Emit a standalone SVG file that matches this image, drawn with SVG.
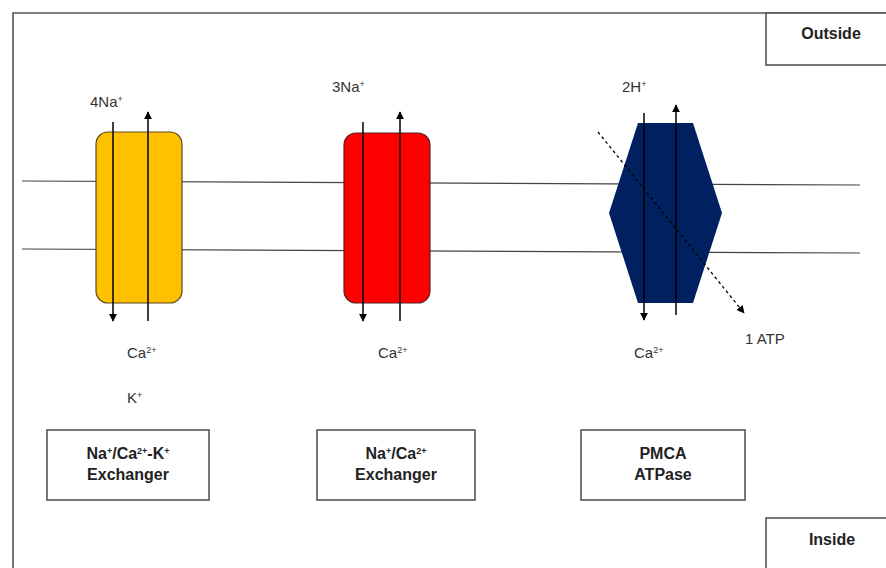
<svg xmlns="http://www.w3.org/2000/svg" width="886" height="568" viewBox="0 0 886 568">
<defs>
<marker id="ah" viewBox="0 0 10 10" refX="9" refY="5" markerWidth="8" markerHeight="8" markerUnits="userSpaceOnUse" orient="auto"><path d="M0,0 L10,5 L0,10 z" fill="#000"/></marker>
<style>
.t{font-family:"Liberation Sans",Arial,sans-serif;font-size:15px;fill:#333}
.b{font-family:"Liberation Sans",Arial,sans-serif;font-size:16px;font-weight:bold;fill:#222;text-anchor:middle}
.sup{font-size:9px}
.box{fill:#fff;stroke:#555;stroke-width:1.6}
.mem{stroke:#444;stroke-width:1.2;fill:none}
.arr{stroke:#000;stroke-width:1.5;fill:none;marker-end:url(#ah)}
</style>
</defs>
<rect width="886" height="568" fill="#fff"/>
<path d="M13,568 V13 H886" fill="none" stroke="#555" stroke-width="1.6"/>
<g id="membrane">
<line class="mem" x1="22" y1="181" x2="860" y2="185"/>
<line class="mem" x1="22" y1="249" x2="860" y2="253"/>
</g>
<g id="outside"><rect class="box" x="766" y="13" width="125" height="52"/><text class="b" x="831" y="39">Outside</text></g>
<g id="inside"><rect class="box" x="766" y="518" width="125" height="55"/><text class="b" x="832" y="545">Inside</text></g>

<g id="nckx">
<rect x="96" y="132" width="86" height="171" rx="12" fill="#FFC000" stroke="#5a4a20" stroke-width="1.2"/>
<text class="t" x="90" y="107">4Na<tspan class="sup" dy="-5">+</tspan></text>
<text class="t" x="127" y="358">Ca<tspan class="sup" dy="-5">2+</tspan></text>
<text class="t" x="127" y="403">K<tspan class="sup" dy="-5">+</tspan></text>
</g>
<g id="ncx">
<rect x="344" y="133" width="86" height="170" rx="12" fill="#FF0000" stroke="#5a2020" stroke-width="1.2"/>
<text class="t" x="332" y="92">3Na<tspan class="sup" dy="-5">+</tspan></text>
<text class="t" x="378" y="358">Ca<tspan class="sup" dy="-5">2+</tspan></text>
</g>
<g id="pmca">
<polygon points="638,123 693,123 722,213 693,303 638,303 609,213" fill="#002060"/>
<text class="t" x="622" y="92">2H<tspan class="sup" dy="-5">+</tspan></text>
<text class="t" x="634" y="358">Ca<tspan class="sup" dy="-5">2+</tspan></text>
<text class="t" x="745" y="344">1 ATP</text>
</g>

<g id="connectors">
<line class="arr" x1="113" y1="122" x2="113" y2="321"/>
<line class="arr" x1="148" y1="321" x2="148" y2="112"/>
<line class="arr" x1="363" y1="122" x2="363" y2="321"/>
<line class="arr" x1="400" y1="321" x2="400" y2="112"/>
<line class="arr" x1="644" y1="113" x2="644" y2="320"/>
<line class="arr" x1="676" y1="315" x2="676" y2="105"/>
<line x1="598" y1="132" x2="744" y2="313" stroke="#000" stroke-width="1.3" stroke-dasharray="3,3" marker-end="url(#ah)"/>
</g>

<g id="label1"><rect class="box" x="47" y="430" width="162" height="70"/>
<text class="b" x="128" y="459">Na<tspan class="sup" dy="-5">+</tspan><tspan dy="5">/Ca</tspan><tspan class="sup" dy="-5">2+</tspan><tspan dy="5">-K</tspan><tspan class="sup" dy="-5">+</tspan></text>
<text class="b" x="128" y="480">Exchanger</text></g>
<g id="label2"><rect class="box" x="317" y="430" width="158" height="70"/>
<text class="b" x="396" y="459">Na<tspan class="sup" dy="-5">+</tspan><tspan dy="5">/Ca</tspan><tspan class="sup" dy="-5">2+</tspan></text>
<text class="b" x="396" y="480">Exchanger</text></g>
<g id="label3"><rect class="box" x="581" y="430" width="164" height="70"/>
<text class="b" x="663" y="459">PMCA</text>
<text class="b" x="663" y="480">ATPase</text></g>
</svg>
